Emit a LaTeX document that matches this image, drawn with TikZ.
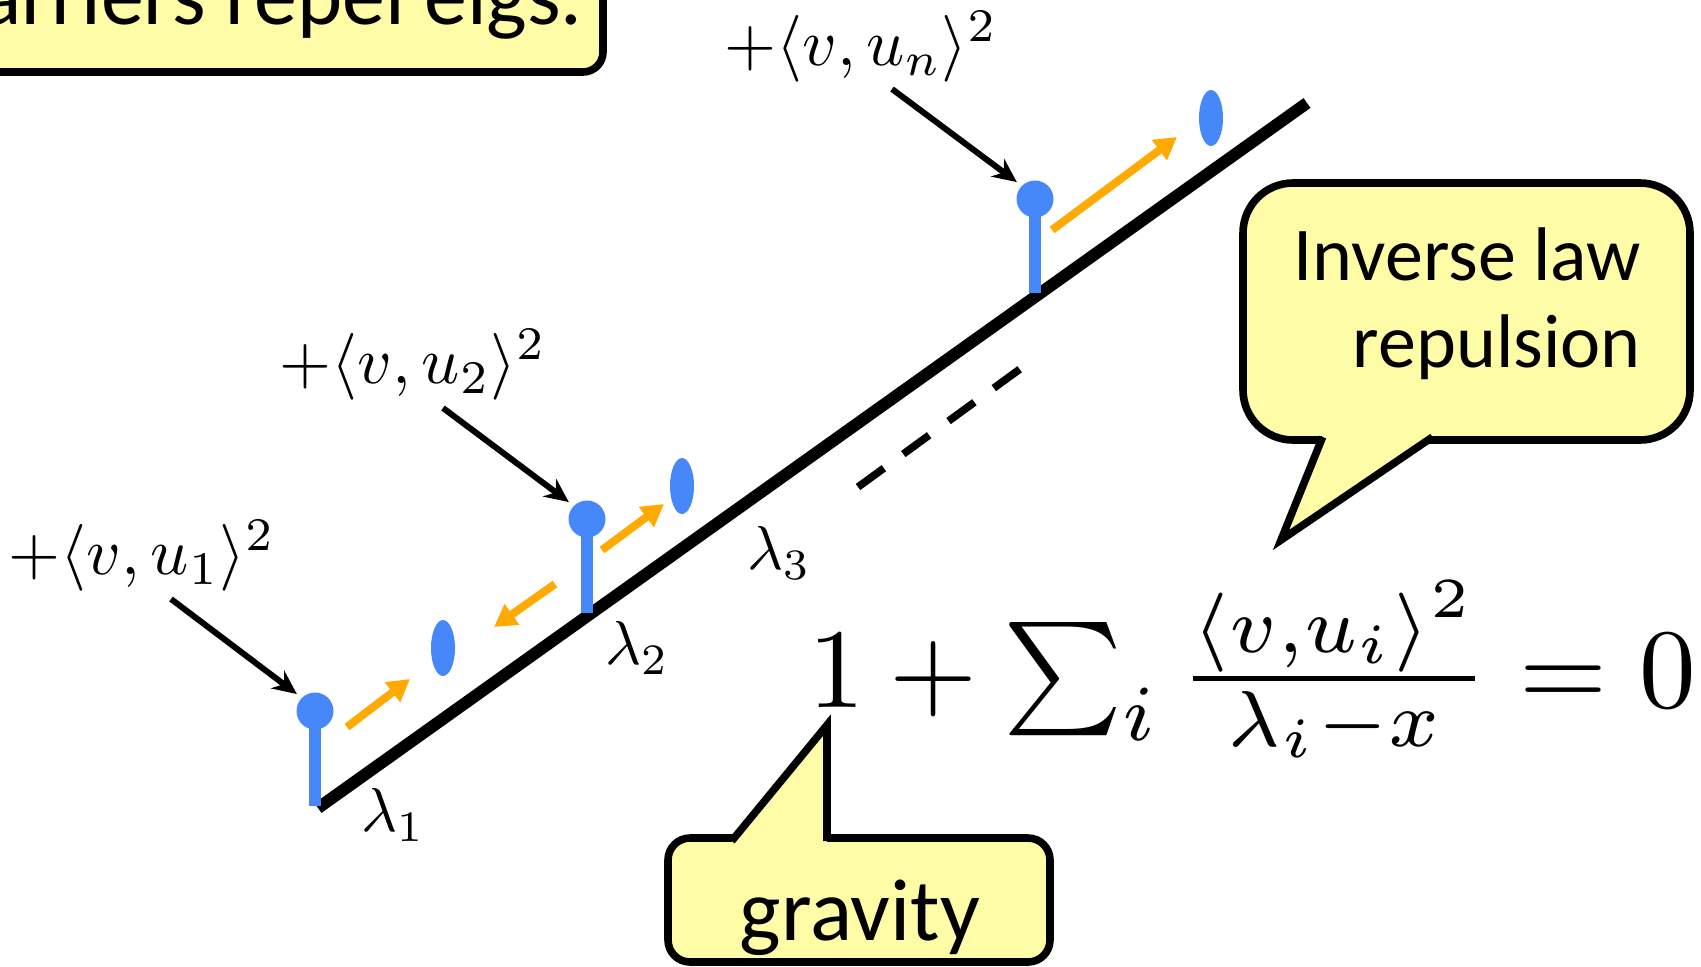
\documentclass[tikz,border=0pt]{standalone}
\usepackage{fontspec}
\newfontfamily\calibri{Carlito}
\usetikzlibrary{arrows.meta,shapes.geometric}
\definecolor{eigblue}{RGB}{70,135,250}
\definecolor{pushorange}{RGB}{255,170,0}
\definecolor{notefill}{RGB}{255,252,168}
\tikzset{
 axisline/.style={line width=6pt},
 dashline/.style={line width=3.8pt, dash pattern=on 16pt off 12pt},
 stemline/.style={draw=eigblue, line width=6pt},
 ball/.style={circle, fill=eigblue, minimum size=18.5pt, inner sep=0pt},
 ghost/.style={ellipse, fill=eigblue, minimum width=12pt, minimum height=28pt, inner sep=0pt},
 push/.style={draw=pushorange, line width=4pt, -{Triangle[length=11pt,width=12pt]}},
 pointer/.style={line width=3pt, -{Stealth[length=12pt,width=11pt]}, shorten >=3pt},
 mlabel/.style={scale=3.34, inner sep=0pt},
 lam/.style={scale=3.1, inner sep=0pt},
 notebox/.style={draw, line width=3.8pt, fill=notefill},
 tailline/.style={line width=3.8pt, line join=miter},
 notetext/.style={font=\calibri\fontsize{38}{43.5}\selectfont, inner sep=0pt},
}
\begin{document}
\begin{tikzpicture}[x=0.5pt,y=-0.5pt]
\useasboundingbox (0,0) rectangle (1701,966);
\clip (0,0) rectangle (1701,966);

% top-left note
\draw[notebox, rounded corners=10pt] (-40,-40) rectangle (603,72);
\node[font=\calibri\fontsize{43}{50}\selectfont, anchor=base east, inner sep=0pt] (tl) at (583,24) {Barriers repel eigs.};

% axis line and dashes
\coordinate (L0) at (318,808);
\coordinate (L1) at (1307,103);
\draw[axisline] (L0) -- (L1);
\coordinate (d0) at (858,487);
\coordinate (d1) at (1020,369);
\draw[dashline] (d0) -- (d1);

% balls and stems
\node[ball] (b1) at (315,711) {};
\node[ball] (b2) at (587,519) {};
\node[ball] (bn) at (1035,199) {};
\coordinate (s1) at (315,806);
\coordinate (s2) at (587,613);
\coordinate (sn) at (1035,293);
\draw[stemline] (s1) -- (b1.center);
\draw[stemline] (s2) -- (b2.center);
\draw[stemline] (sn) -- (bn.center);

% floating eigenvalues
\node[ghost] (g1) at (443,648) {};
\node[ghost] (g2) at (682,486) {};
\node[ghost] (gn) at (1211,118) {};

% orange pushes
\coordinate (a1s) at (347,727); \coordinate (a1e) at (410,679);
\coordinate (a2s) at (555,584); \coordinate (a2e) at (494,627);
\coordinate (a3s) at (602,550); \coordinate (a3e) at (664,504);
\coordinate (ans) at (1052,230); \coordinate (ane) at (1177,137);
\draw[push] (a1s) -- (a1e);
\draw[push] (a2s) -- (a2e);
\draw[push] (a3s) -- (a3e);
\draw[push] (ans) -- (ane);

% labels
\node[mlabel] (l1) at (142,556) {$+\langle v,u_1\rangle^2$};
\node[mlabel] (l2) at (413,365) {$+\langle v,u_2\rangle^2$};
\node[mlabel] (ln) at (861,47) {$+\langle v,u_n\rangle^2$};
\coordinate (p1) at (171,599);
\coordinate (p2) at (443,408);
\coordinate (pn) at (892,89);
\draw[pointer] (p1) -- (b1.north west);
\draw[pointer] (p2) -- (b2.north west);
\draw[pointer] (pn) -- (bn.north west);

\node[lam] (lam1) at (393,815) {$\lambda_1$};
\node[lam] (lam2) at (637,648) {$\lambda_2$};
\node[lam] (lam3) at (779,553) {$\lambda_3$};

% equation
\node[scale=5.66, anchor=base, inner sep=0pt] (eq) at (1252,707) {$1+\sum_i \frac{\langle v,u_i\rangle^2}{\lambda_i-x}=0$};

% repulsion bubble
\draw[notebox, rounded corners=25pt] (1243,183) rectangle (1690,440);
\fill[notefill] (1323,435) -- (1281,540) -- (1434,435) -- cycle;
\draw[tailline] (1322.6,437) -- (1281,540) -- (1432.5,437);
\node[notetext, align=right, anchor=base east] (rtext) at (1641,367) {Inverse law\\repulsion};

% gravity bubble
\draw[notebox, rounded corners=11pt] (668,838) rectangle (1050,962);
\fill[notefill] (731,843) -- (827,725) -- (827,843) -- cycle;
\draw[tailline] (731.7,841) -- (827,725) -- (827,841);
\node[font=\calibri\fontsize{44}{50}\selectfont, anchor=base, inner sep=0pt] (grav) at (860,940) {gravity};
\end{tikzpicture}
\end{document}
